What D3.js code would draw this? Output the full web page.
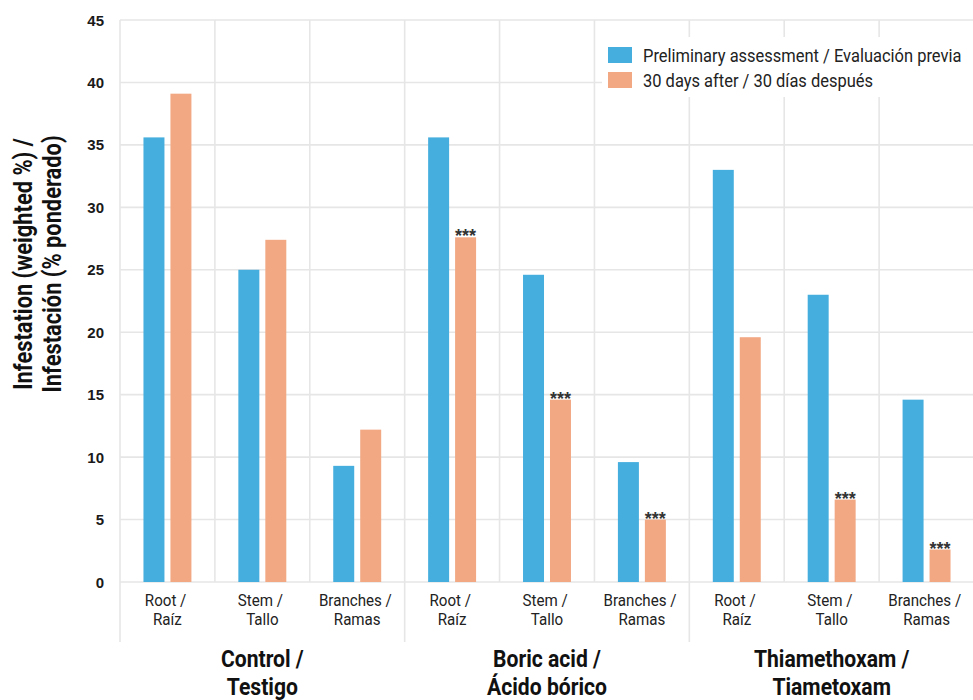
<!DOCTYPE html>
<html>
<head>
<meta charset="utf-8">
<script src="https://cdn.jsdelivr.net/npm/d3@7"></script>
<style>
  html, body { margin: 0; padding: 0; background: #fff; }
  svg { display: block; }
  .cond { font-family: "Roboto", "Liberation Sans", sans-serif; }
  .tick-num { font-family: "Liberation Sans", Arial, sans-serif; font-weight: bold; }
</style>
</head>
<body>
<svg id="chart" width="973" height="700"></svg>
<script>
// Groups (treatments) and their plant parts
const groups = ["Control / |Testigo", "Boric acid / |Ácido bórico", "Thiamethoxam / |Tiametoxam"];
const parts = ["Root / |Raíz", "Stem / |Tallo", "Branches / |Ramas"];
const seriesNames = ["Preliminary assessment / Evaluación previa", "30 days after / 30 días después"];
const seriesColors = ["#45AEDE", "#F2A883"];

// Weighted infestation (%) per group × part, in order of groups then parts
const preliminary = [35.6, 25.0, 9.3, 35.6, 24.6, 9.6, 33.0, 23.0, 14.6];
const after30 = [39.1, 27.4, 12.2, 27.6, 14.6, 5.0, 19.6, 6.6, 2.6];
// Significance marks on the 30-day bars
const signif = ["", "", "", "***", "***", "***", "", "***", "***"];

const yTicks = [0, 5, 10, 15, 20, 25, 30, 35, 40, 45];

const svg = d3.select("#chart");
const plotLeft = 120, plotRight = 974, plotTop = 20, plotBottom = 582;

const keys = [];
groups.forEach((g, gi) => parts.forEach((p, pi) => keys.push(gi * parts.length + pi)));

const x = d3.scaleBand().domain(keys).range([plotLeft, plotRight]).padding(0);
const xs = d3.scaleBand().domain([0, 1]).range([0, x.bandwidth()]).paddingInner(0.222).paddingOuter(0.87);
const y = d3.scaleLinear().domain([0, 45]).range([plotBottom, plotTop]);

const grid = svg.append("g");
// horizontal grid lines
grid.selectAll("line.h").data(yTicks).join("line")
  .attr("class", "h")
  .attr("x1", plotLeft).attr("x2", plotRight)
  .attr("y1", d => y(d)).attr("y2", d => y(d))
  .attr("stroke", "#e6e6e6").attr("stroke-width", 1.6);
// vertical category lines; group borders run down into the label area
grid.selectAll("line.v").data(keys).join("line")
  .attr("class", "v")
  .attr("x1", d => x(d)).attr("x2", d => x(d))
  .attr("y1", plotTop)
  .attr("y2", d => d % parts.length === 0 ? 642 : plotBottom)
  .attr("stroke", "#e6e6e6").attr("stroke-width", 1.6);

// y-axis tick labels
svg.append("g").selectAll("text").data(yTicks).join("text")
  .attr("class", "tick-num")
  .attr("x", 104).attr("y", d => y(d) + 5.5)
  .attr("text-anchor", "end").attr("font-size", 15).attr("fill", "#1a1a1a")
  .text(d => d);

// y-axis title (two lines), condensed bold
const yt = svg.append("text")
  .attr("class", "cond")
  .attr("transform", "translate(0,264) rotate(-90) scale(0.84,1)")
  .attr("text-anchor", "middle").attr("font-size", 26).attr("font-weight", "bold").attr("fill", "#111");
yt.append("tspan").attr("x", 0).attr("y", 32).text("Infestation (weighted %) /");
yt.append("tspan").attr("x", 0).attr("y", 61).text("Infestación (% ponderado)");

// bars
const barData = [];
keys.forEach(k => {
  barData.push({ k, s: 0, v: preliminary[k] });
  barData.push({ k, s: 1, v: after30[k] });
});
svg.append("g").selectAll("rect").data(barData).join("rect")
  .attr("x", d => x(d.k) + xs(d.s))
  .attr("width", xs.bandwidth())
  .attr("y", d => y(d.v))
  .attr("height", d => y(0) - y(d.v))
  .attr("fill", d => seriesColors[d.s]);

// significance asterisks
svg.append("g").selectAll("text").data(keys.filter(k => signif[k])).join("text")
  .attr("x", k => x(k) + xs(1) + xs.bandwidth() / 2)
  .attr("y", k => y(after30[k]) + 5)
  .attr("text-anchor", "middle").attr("font-size", 18).attr("font-weight", "bold")
  .attr("font-family", "Liberation Sans, Arial, sans-serif").attr("fill", "#333")
  .text(k => signif[k]);

// category labels
const cat = svg.append("g").selectAll("text").data(keys).join("text")
  .attr("class", "cond")
  .attr("text-anchor", "middle").attr("font-size", 17).attr("fill", "#222")
  .attr("transform", k => `translate(${x(k) + x.bandwidth() / 2},606) scale(0.89,1)`);
cat.append("tspan").attr("x", 0).attr("y", 0).text(k => parts[k % parts.length].split("|")[0]);
cat.append("tspan").attr("x", 0).attr("y", 19).text(k => parts[k % parts.length].split("|")[1]);

// group labels, one text per line
const glLines = [];
groups.forEach((g, i) => g.split("|").forEach((t, li) => glLines.push({ i, li, t })));
svg.append("g").selectAll("text").data(glLines).join("text")
  .attr("class", "cond")
  .attr("text-anchor", "middle").attr("font-size", 24).attr("font-weight", "bold").attr("fill", "#111")
  .attr("transform", d => {
    const a = x(d.i * parts.length), b = x(d.i * parts.length + parts.length - 1) + x.bandwidth();
    return `translate(${(a + b) / 2},${667 + d.li * 28}) scale(0.88,1)`;
  })
  .text(d => d.t);

// legend
const lg = svg.append("g").attr("transform", "translate(602,37)");
lg.append("rect").attr("width", 371).attr("height", 60).attr("fill", "#fff");
const li = lg.selectAll("g").data(seriesNames).join("g")
  .attr("transform", (d, i) => `translate(6,${10 + i * 25})`);
li.append("rect").attr("width", 24).attr("height", 16).attr("fill", (d, i) => seriesColors[i]);
li.append("text").attr("class", "cond")
  .attr("transform", "translate(35,15) scale(0.915,1)")
  .attr("font-size", 18).attr("fill", "#222").text(d => d);
</script>
</body>
</html>
